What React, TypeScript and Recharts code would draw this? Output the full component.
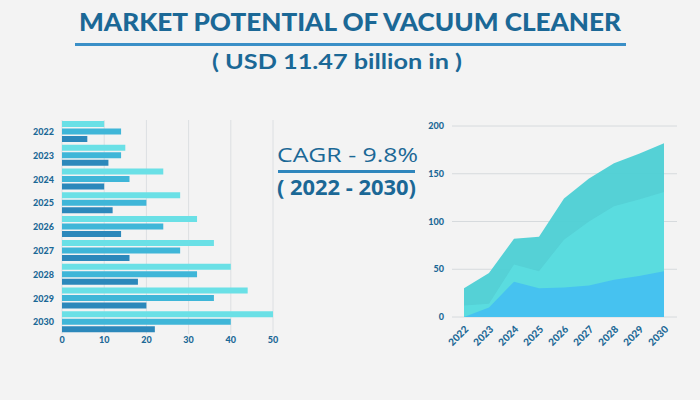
import React from 'react';
import { BarChart, Bar, XAxis, YAxis, CartesianGrid, AreaChart, Area } from 'recharts';

const years = ['2022', '2023', '2024', '2025', '2026', '2027', '2028', '2029', '2030'];
const barSeriesA = [10, 15, 24, 28, 32, 36, 40, 44, 50];
const barSeriesB = [14, 14, 16, 20, 24, 28, 32, 36, 40];
const barSeriesC = [6, 11, 10, 12, 14, 16, 18, 20, 22];
const areaTop = [30, 46, 82, 84, 124, 145, 161, 171, 182];
const areaMid = [12, 14, 55, 48, 81, 100, 116, 123, 131];
const areaLow = [0, 10, 37, 30, 31, 33, 39, 43, 48];
const barTicks = [0, 10, 20, 30, 40, 50];
const areaTicks = [0, 50, 100, 150, 200];

const titleText = 'MARKET POTENTIAL OF VACUUM CLEANER';
const subtitleText = '( USD 11.47 billion in )';
const cagrText = 'CAGR - 9.8%';
const periodText = '( 2022 - 2030)';

const barData = years.map((y, i) => ({ year: y, a: barSeriesA[i], b: barSeriesB[i], c: barSeriesC[i] }));
const areaData = years.map((y, i) => ({ year: y, top: areaTop[i], mid: areaMid[i], low: areaLow[i] }));

const DARK = '#1b6896';
const tickStyle = { fontSize: 9, fontWeight: 900, fill: DARK, fontFamily: 'Lato' };
const rotTickStyle = { fontSize: 10, fontWeight: 900, fill: DARK, fontFamily: 'Lato' };

const RotTick = (props: any) => {
  const { x, y, payload } = props;
  return (
    <g transform={`translate(${x + 5},${y + 13})`}>
      <text textAnchor="end" transform="rotate(-45)" style={rotTickStyle as any}>
        {payload.value}
      </text>
    </g>
  );
};

export default function App() {
  return (
    <div style={{ position: 'fixed', left: 0, top: 0, width: 700, height: 400, background: '#f3f3f3', overflow: 'hidden' }}>
      <div style={{ position: 'absolute', left: 0, top: 110 }}>
        <BarChart
          width={290}
          height={245}
          data={barData}
          layout="vertical"
          margin={{ top: 10, right: 17, left: 0, bottom: 0 }}
          barSize={6}
          barGap={1.5}
        >
          <CartesianGrid horizontal={false} stroke="#dcdfe2" strokeWidth={1} />
          <XAxis
            type="number"
            domain={[0, 50]}
            ticks={barTicks}
            axisLine={false}
            tickLine={false}
            tickSize={0}
            tickMargin={3}
            height={21}
            tick={tickStyle}
          />
          <YAxis
            type="category"
            dataKey="year"
            width={62}
            axisLine={false}
            tickLine={false}
            tickSize={0}
            tickMargin={8}
            tick={tickStyle}
          />
          <Bar dataKey="a" fill="#6ae0e6" isAnimationActive={false} />
          <Bar dataKey="b" fill="#3fb6d8" isAnimationActive={false} />
          <Bar dataKey="c" fill="#2c88bb" isAnimationActive={false} />
        </BarChart>
      </div>

      <div style={{ position: 'absolute', left: 400, top: 110 }}>
        <AreaChart
          width={290}
          height={250}
          data={areaData}
          margin={{ top: 16, right: 13, left: 0, bottom: 0 }}
        >
          <CartesianGrid vertical={false} stroke="#d6dadd" strokeWidth={1} />
          <XAxis
            dataKey="year"
            padding={{ left: 12, right: 13 }}
            axisLine={false}
            tickLine={false}
            tickSize={0}
            tickMargin={0}
            height={43}
            interval={0}
            tick={<RotTick />}
          />
          <YAxis
            domain={[0, 200]}
            ticks={areaTicks}
            width={52}
            axisLine={false}
            tickLine={false}
            tickSize={0}
            tickMargin={8}
            tick={tickStyle}
          />
          <Area type="linear" dataKey="top" stroke="none" fill="#4fcfd5" fillOpacity={0.97} isAnimationActive={false} />
          <Area type="linear" dataKey="mid" stroke="none" fill="#5bdcdf" fillOpacity={0.97} isAnimationActive={false} />
          <Area type="linear" dataKey="low" stroke="none" fill="#46c2f0" fillOpacity={1} isAnimationActive={false} />
        </AreaChart>
      </div>

      <svg width={700} height={400} style={{ position: 'absolute', left: 0, top: 0, pointerEvents: 'none' }}>
        <text x={79} y={31} textLength={542} lengthAdjust="spacingAndGlyphs" fontFamily="Lato" fontWeight={900} fontSize={25} fill={DARK}>
          {titleText}
        </text>
        <rect x={75} y={43} width={551} height={3} fill="#3a8fc7" />
        <text x={212} y={69} textLength={250} lengthAdjust="spacingAndGlyphs" fontFamily="Lato" fontWeight={700} fontSize={21} fill={DARK}>
          {subtitleText}
        </text>
        <text x={277} y={162} textLength={141} lengthAdjust="spacingAndGlyphs" fontFamily="Open Sans" fontWeight={400} fontSize={20} fill={DARK}>
          {cagrText}
        </text>
        <rect x={278} y={170} width={137} height={3} fill="#2f86bd" />
        <text x={277} y={195} textLength={139} lengthAdjust="spacingAndGlyphs" fontFamily="Open Sans" fontWeight={700} fontSize={21} fill={DARK}>
          {periodText}
        </text>
      </svg>
    </div>
  );
}
